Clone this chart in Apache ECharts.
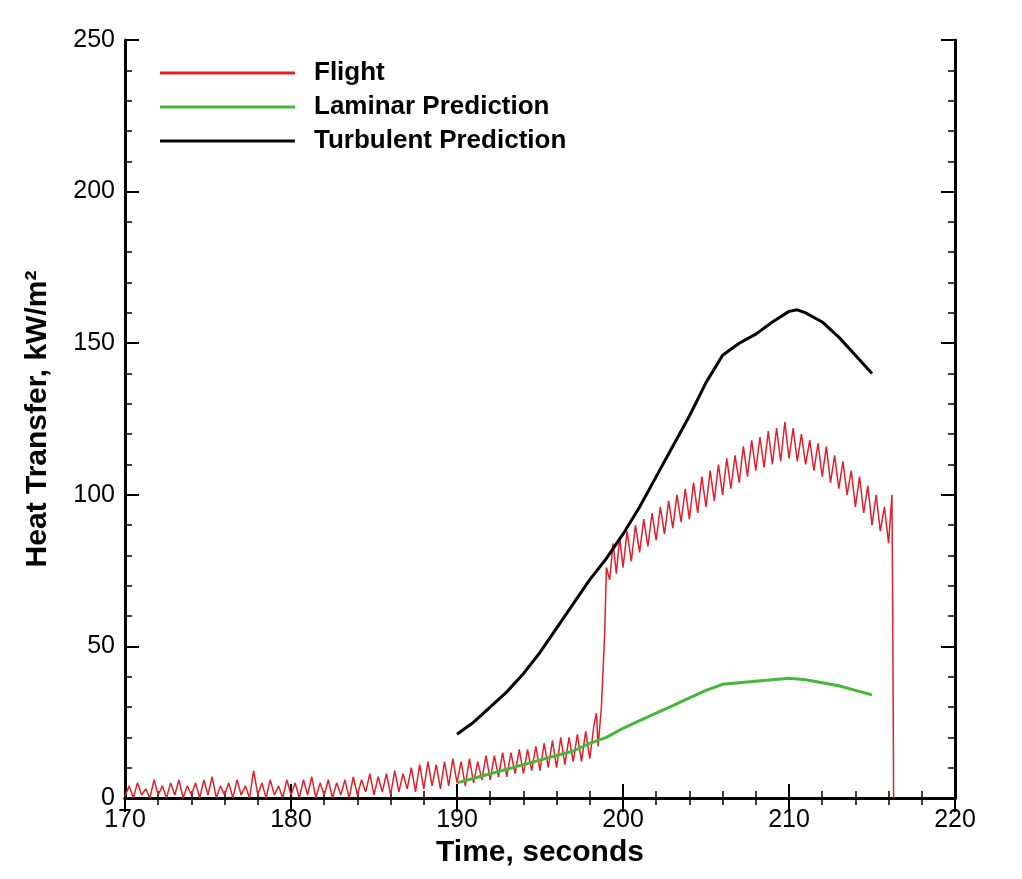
<!DOCTYPE html>
<html>
<head>
<meta charset="utf-8">
<script src="https://cdn.jsdelivr.net/npm/echarts@6/dist/echarts.min.js"></script>
<style>html,body{margin:0;background:#fff}#chart{width:1022px;height:879px}</style>
</head>
<body>
<div id="chart"></div>
<script>
// Flight data as [time, value] pairs, alternating along the noise band
var flightData = [
  [170,0.5],[170.25,4],[170.5,0],[170.75,5],[171,1],[171.25,3],[171.5,0],[171.75,6],[172,1],[172.25,4],
  [172.5,0],[172.75,5],[173,1],[173.25,6],[173.5,0],[173.75,4],[174,1],[174.25,5],[174.5,0],[174.75,6],
  [175,1],[175.25,7],[175.5,0],[175.75,4],[176,1],[176.25,5],[176.5,0],[176.75,6],[177,1],[177.25,4],
  [177.5,0],[177.75,9],[178,1],[178.25,5],[178.5,0],[178.75,6],[179,1],[179.25,4],[179.5,0],[179.75,6],
  [180,1],[180.25,5],[180.5,0],[180.75,6],[181,1],[181.25,7],[181.5,0],[181.75,5],[182,1],[182.25,6],
  [182.5,0],[182.75,5],[183,1],[183.25,6],[183.5,0],[183.75,7],[184,1],[184.25,6],[184.5,2],[184.75,8],
  [185,1],[185.25,7],[185.5,2],[185.75,8],[186,1],[186.25,9],[186.5,2],[186.75,8],[187,3],[187.25,10],
  [187.5,2],[187.75,11],[188,3],[188.25,12],[188.5,4],[188.75,11],[189,3],[189.25,12],[189.5,4],[189.75,13],
  [190,5],[190.25,12],[190.5,4],[190.75,13],[191,5],[191.25,12],[191.5,6],[191.75,14],[192,6],[192.25,14],
  [192.5,7],[192.75,15],[193,7],[193.25,15],[193.5,8],[193.75,16],[194,8],[194.25,16],[194.5,9],[194.75,17],
  [195,9],[195.25,18],[195.5,10],[195.75,19],[196,10],[196.25,20],[196.5,11],[196.75,20],[197,12],[197.25,21],
  [197.5,12],[197.75,22],[198,13],[198.25,24],[198.4,28],[198.5,17],[198.7,30],[198.8,42],[198.9,55],[199,76],
  [199.2,72],[199.4,84],[199.6,74],[199.8,86],[200,76],[200.25,88],[200.5,78],[200.75,90],[201,81],[201.25,92],
  [201.5,83],[201.75,94],[202,85],[202.25,96],[202.5,87],[202.75,98],[203,89],[203.25,100],[203.5,91],[203.75,102],
  [204,92],[204.25,104],[204.5,94],[204.75,106],[205,96],[205.25,108],[205.5,98],[205.75,110],[206,100],[206.25,112],
  [206.5,102],[206.75,113],[207,104],[207.25,116],[207.5,106],[207.75,118],[208,108],[208.25,119],[208.5,109],[208.75,121],
  [209,110],[209.25,122],[209.5,111],[209.75,124],[210,112],[210.25,122],[210.5,111],[210.75,120],[211,110],[211.25,118],
  [211.5,108],[211.75,117],[212,106],[212.25,116],[212.5,104],[212.75,113],[213,102],[213.25,111],[213.5,100],[213.75,108],
  [214,96],[214.25,106],[214.5,94],[214.75,103],[215,90],[215.25,100],[215.5,88],[215.75,96],[216,84],[216.1,92],
  [216.2,100],[216.25,60],[216.3,0]
];
var turbTime = [190,191,192,193,194,195,196,197,198,199,200,201,202,203,204,205,206,207,208,209,210,210.5,211,212,213,214,215];
var turbVal  = [21,25,30,35,41,48,56,64,72,79,87,96,106,116,126,137,146,150,153,157,160.5,161,160,157,152,146,140];
var lamTime  = [190,191,192,193,194,195,196,197,198,199,200,201,202,203,204,205,206,207,208,209,210,211,212,213,214,215];
var lamVal   = [5,6.5,8,9.5,11,12.5,14,15.5,18,20,23,25.5,28,30.5,33,35.5,37.5,38,38.5,39,39.5,39,38,37,35.5,34];

var chart = echarts.init(document.getElementById('chart'));
var font = 'Liberation Sans, Arial, sans-serif';
function axisBase(show) {
  return {
    axisLine: {show: true, lineStyle: {color: '#000', width: 3}},
    axisTick: {show: true, inside: true, length: 14, lineStyle: {color: '#000', width: 2}},
    minorTick: {show: true, splitNumber: 5, length: 7, lineStyle: {color: '#000', width: 1.5}},
    splitLine: {show: false},
    axisLabel: {show: show, color: '#000', fontSize: 25, fontFamily: font, margin: 10}
  };
}
var x1 = Object.assign(axisBase(true), {type: 'value', min: 170, max: 220, interval: 10,
  name: 'Time, seconds', nameLocation: 'middle', nameGap: 30,
  nameTextStyle: {fontSize: 30, fontWeight: 'bold', fontFamily: font, color: '#000'}});
var x2 = Object.assign(axisBase(false), {type: 'value', min: 170, max: 220, interval: 10, position: 'top'});
var y1 = Object.assign(axisBase(true), {type: 'value', min: 0, max: 250, interval: 50,
  name: 'Heat Transfer, kW/m²', nameLocation: 'middle', nameGap: 72,
  nameTextStyle: {fontSize: 30, fontWeight: 'bold', fontFamily: font, color: '#000'}});
var y2 = Object.assign(axisBase(false), {type: 'value', min: 0, max: 250, interval: 50, position: 'right'});

chart.setOption({
  animation: false,
  grid: {left: 125, right: 67, top: 40, bottom: 81},
  legend: {
    orient: 'vertical', left: 155, top: 55, itemWidth: 135, itemHeight: 3, itemGap: 8,
    icon: 'rect',
    textStyle: {fontSize: 26, fontWeight: 'bold', fontFamily: font, color: '#000', padding: [0, 0, 0, 14]},
    data: ['Flight', 'Laminar Prediction', 'Turbulent Prediction']
  },
  xAxis: [x1, x2],
  yAxis: [y1, y2],
  series: [
    {name: 'Flight', type: 'line', showSymbol: false, data: flightData,
     lineStyle: {color: '#e0202a', width: 1.5}, itemStyle: {color: '#e0202a'}},
    {name: 'Laminar Prediction', type: 'line', showSymbol: false,
     data: lamTime.map(function (t, i) { return [t, lamVal[i]]; }),
     lineStyle: {color: '#44b83a', width: 3}, itemStyle: {color: '#44b83a'}},
    {name: 'Turbulent Prediction', type: 'line', showSymbol: false,
     data: turbTime.map(function (t, i) { return [t, turbVal[i]]; }),
     lineStyle: {color: '#000', width: 3}, itemStyle: {color: '#000'}}
  ]
});
</script>
</body>
</html>
